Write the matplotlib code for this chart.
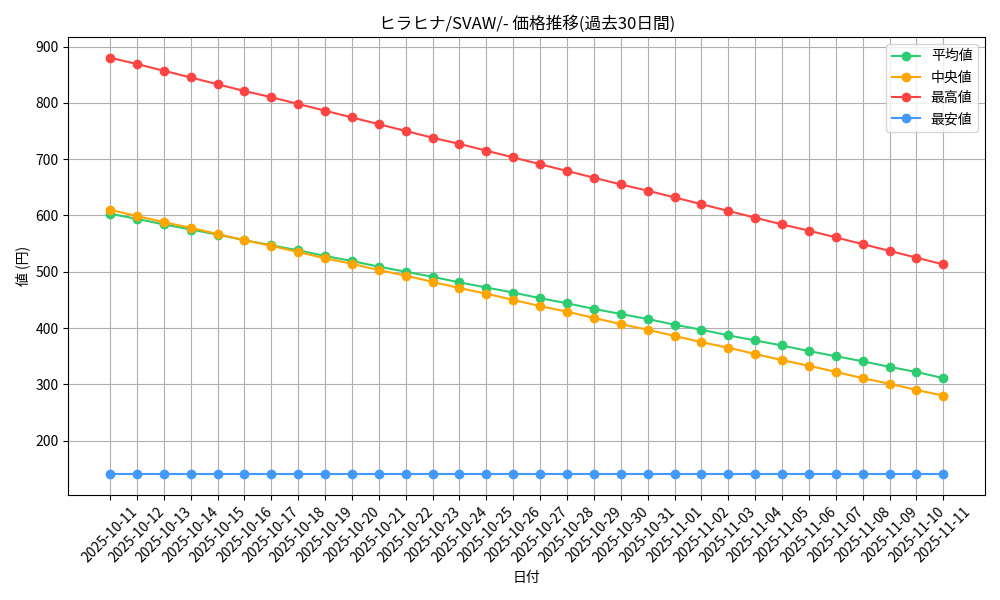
import matplotlib
matplotlib.use("Agg")
import matplotlib.pyplot as plt

plt.rcParams['font.family'] = ['Noto Sans CJK JP', 'DejaVu Sans']

dates = ["2025-10-11", "2025-10-12", "2025-10-13", "2025-10-14", "2025-10-15", "2025-10-16",
         "2025-10-17", "2025-10-18", "2025-10-19", "2025-10-20", "2025-10-21", "2025-10-22",
         "2025-10-23", "2025-10-24", "2025-10-25", "2025-10-26", "2025-10-27", "2025-10-28",
         "2025-10-29", "2025-10-30", "2025-10-31", "2025-11-01", "2025-11-02", "2025-11-03",
         "2025-11-04", "2025-11-05", "2025-11-06", "2025-11-07", "2025-11-08", "2025-11-09",
         "2025-11-10", "2025-11-11"]

avg_vals = [603, 594, 584, 575, 566, 556, 547, 538, 528, 519, 509, 500, 491, 481, 472, 463,
            453, 444, 434, 425, 416, 406, 397, 387, 378, 369, 359, 350, 341, 331, 322, 311]
med_vals = [610, 599, 588, 578, 567, 556, 546, 535, 524, 514, 503, 493, 482, 471, 461, 450,
            439, 429, 418, 407, 397, 386, 375, 365, 354, 343, 333, 322, 311, 301, 290, 280]
max_vals = [880, 869, 857, 845, 833, 821, 810, 798, 786, 774, 762, 750, 738, 727, 715, 703,
            691, 679, 667, 655, 644, 632, 620, 608, 596, 584, 573, 561, 549, 537, 525, 513]
min_vals = [140] * 32

fig, ax = plt.subplots(figsize=(10, 6), dpi=100)
ax.plot(dates, avg_vals, marker='o', color='#2ecc71', label='平均値')
ax.plot(dates, med_vals, marker='o', color='#ffa500', label='中央値')
ax.plot(dates, max_vals, marker='o', color='#ff4444', label='最高値')
ax.plot(dates, min_vals, marker='o', color='#4499ff', label='最安値')

ax.set_title('ヒラヒナ/SVAW/- 価格推移(過去30日間)')
ax.set_xlabel('日付')
ax.set_ylabel('値 (円)')
ax.grid(True)
ax.legend(loc='upper right')
plt.setp(ax.get_xticklabels(), rotation=45)
fig.tight_layout()
fig.savefig('out.png')
